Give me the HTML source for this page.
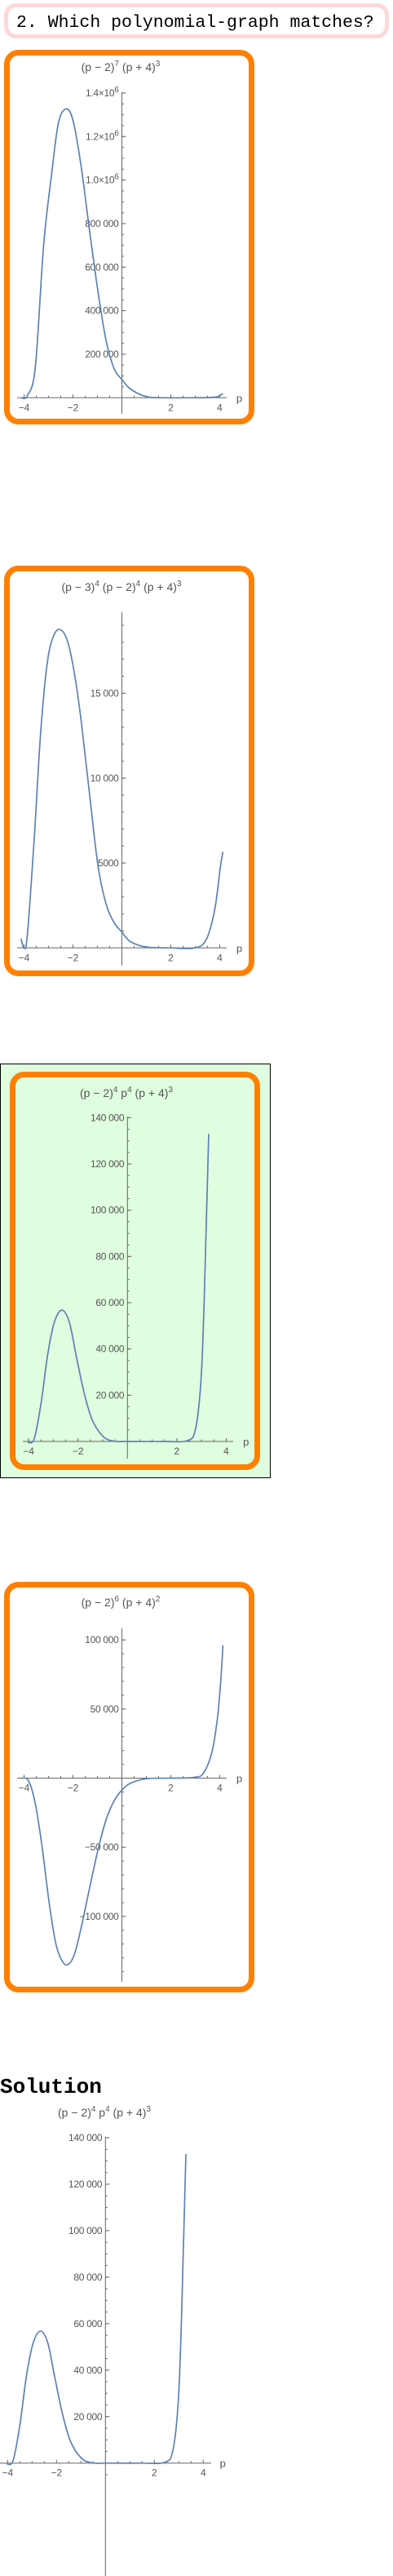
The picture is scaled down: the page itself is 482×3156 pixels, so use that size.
<!DOCTYPE html>
<html><head><meta charset="utf-8">
<style>
html,body{margin:0;padding:0;background:#fff;width:482px;height:3156px;overflow:hidden;}
svg{display:block;}
.t{font-family:"Liberation Sans",sans-serif;fill:#555;}
.m{font-family:"Liberation Mono","DejaVu Sans Mono",monospace;fill:#000;}
</style></head>
<body>
<svg id="page" width="482" height="3156" xmlns="http://www.w3.org/2000/svg">
  <rect x="7.5" y="6.5" width="467" height="38" rx="12" fill="#fff" stroke="#fdd8d8" stroke-width="5"/>
  <text class="m" x="20" y="33" font-size="21.5">2. Which polynomial-graph matches?</text>

  <rect x="8.5" y="64.5" width="300" height="452" rx="14" fill="#fff" stroke="#ff8000" stroke-width="7"/>
  <rect x="8.5" y="696.5" width="300" height="496" rx="14" fill="#fff" stroke="#ff8000" stroke-width="7"/>
  <rect x="0.5" y="1303.5" width="331" height="507" fill="#dffddf" stroke="#000" stroke-width="1"/>
  <rect x="15.5" y="1316.5" width="300" height="481" rx="14" fill="#dffddf" stroke="#ff8000" stroke-width="7"/>
  <rect x="8.5" y="1941.5" width="300" height="496" rx="14" fill="#fff" stroke="#ff8000" stroke-width="7"/>
  <text class="m" x="0" y="2564" font-size="26" font-weight="bold">Solution</text>
  <g id="charts"></g>
</svg>
<script>
// Chart 1: (p-2)^7 (p+4)^3
const c1P = [-4.12,-3.87,-3.54,-3.2,-2.87,-2.59,-2.26,-1.98,-1.65,-1.32,-0.98,-0.65,-0.32,0,0.35,1.0,1.68,2.8,3.8,4.13];
const c1V = [0,9000,140000,700000,1030000,1265000,1327000,1265000,1050000,765000,490000,265000,134000,84000,40000,5000,0,0,2500,19000];
const c1Ticks = [200000,400000,600000,800000,1000000,1200000,1400000];
const c1Labels = ["200 000","400 000","600 000","800 000","1.0×10^6","1.2×10^6","1.4×10^6"];
// Chart 2: (p-3)^4 (p-2)^4 (p+4)^3
const c2P = [-4.12,-4.0,-3.87,-3.59,-3.32,-3.04,-2.76,-2.48,-2.21,-1.93,-1.65,-1.32,-0.98,-0.65,-0.32,0,0.35,1.0,2.0,3.0,3.46,3.8,4.02,4.13];
const c2V = [530,0,690,6300,12700,16900,18480,18720,18000,16070,13190,9020,4860,2600,1490,930,370,50,0,0,530,2290,4700,5660];
const c2Ticks = [5000,10000,15000];
const c2Labels = ["5000","10 000","15 000"];
// Chart 3 and solution: (p-2)^4 p^4 (p+4)^3
const c3P = [-4.05,-3.78,-3.5,-3.23,-2.96,-2.65,-2.35,-2.08,-1.75,-1.42,-0.98,-0.54,0,1.44,2.43,2.76,2.98,3.11,3.2,3.29];
const c3V = [-300,940,16200,37400,51500,56800,51500,37400,20900,9200,2100,100,0,0,350,5600,26800,62000,97400,133000];
const c3Ticks = [20000,40000,60000,80000,100000,120000,140000];
const c3Labels = ["20 000","40 000","60 000","80 000","100 000","120 000","140 000"];
// Chart 4: (p-2)^6 (p+4)^2
const c4P = [-4.12,-3.82,-3.54,-3.26,-2.98,-2.71,-2.43,-2.18,-1.93,-1.65,-1.32,-0.98,-0.65,-0.32,0,0.35,1.0,2.0,3.0,3.35,3.68,3.9,4.04,4.13];
const c4V = [0,-1800,-18500,-50000,-89400,-119000,-132700,-134600,-126800,-107000,-79500,-52000,-30300,-16500,-8700,-3700,-400,0,600,4100,18900,42500,70000,96000];
const c4Ticks = [-100000,-50000,50000,100000];
const c4Labels = ["−100 000","−50 000","50 000","100 000"];
const xTicks = [-4,-2,2,4];
const xLabels = ["−4","−2","2","4"];

const NS = "http://www.w3.org/2000/svg";
const root = document.getElementById('charts');
function mk(tag, attrs, parent){ const e=document.createElementNS(NS,tag); for(const k in attrs) e.setAttribute(k,attrs[k]); (parent||root).appendChild(e); return e; }

function drawChart(cfg){
  const g = mk('g',{});
  
  
  const sx = p => cfg.ox + p*cfg.xu;
  const sy = v => cfg.oy - v*cfg.k;
  const t = mk('text',{class:'t',x:cfg.tx,y:cfg.ty,'font-size':14,'text-anchor':'middle'},g);
  
  
  cfg.title.forEach(part=>{ const s=mk('tspan',{},t); s.textContent=part[0]; if(part[1]) {s.setAttribute('dy', part[1]); s.setAttribute('font-size', part[2]||10);} });
  const ax = mk('line',{x1:cfg.xl,x2:cfg.xr,y1:cfg.oy,y2:cfg.oy,stroke:'#666','stroke-width':1},g);
  
  
  const ay = mk('line',{x1:cfg.ox,x2:cfg.ox,y1:cfg.yt,y2:cfg.yb,stroke:'#666','stroke-width':1},g);
  
  
  for(let p=-4;p<=4.01;p+=0.5){ if(Math.abs(p)<0.01) continue; const x=sx(p); const maj=Math.abs(p%2)<0.01; mk('line',{x1:x,x2:x,y1:cfg.oy,y2:cfg.oy-(maj?4:2.5),stroke:'#666','stroke-width':1},g); }
  xTicks.forEach((p,i)=>{ const l=mk('text',{class:'t',x:sx(p),y:cfg.oy+16,'font-size':12,'text-anchor':'middle'},g); l.textContent=xLabels[i];
    
     });
  const pl = mk('text',{class:'t',x:cfg.ox+cfg.xu*4.8,y:cfg.oy+5,'font-size':13,'text-anchor':'middle'},g); pl.textContent='p';
  
  
  for(let v=cfg.vmin; v<=cfg.vmax+1e-6; v+=cfg.minor){ const y=sy(v); if(y<cfg.yt||y>cfg.yb||Math.abs(v)<1e-6) continue; mk('line',{x1:cfg.ox,x2:cfg.ox+2.5,y1:y,y2:y,stroke:'#666','stroke-width':1},g); }
  cfg.ticks.forEach((v,i)=>{ const y=sy(v); mk('line',{x1:cfg.ox,x2:cfg.ox+5,y1:y,y2:y,stroke:'#666','stroke-width':1},g);
    const l=mk('text',{class:'t',x:cfg.ox-4,y:y+4,'font-size':12,'text-anchor':'end','letter-spacing':'-0.3'},g);
    
    
    const lab=cfg.labels[i];
    if(lab.indexOf('^')>=0){ const [a,b]=lab.split('^'); const s1=mk('tspan',{},l); s1.textContent=a; const s2=mk('tspan',{dy:-5,'font-size':10},l); s2.textContent=b; }
    else l.textContent=lab; });
  const pts = cfg.P.map((p,i)=>[sx(p), sy(cfg.V[i])]);
  let d = 'M'+pts[0][0].toFixed(2)+','+pts[0][1].toFixed(2);
  for(let i=0;i<pts.length-1;i++){
    const p0=pts[Math.max(0,i-1)],p1=pts[i],p2=pts[i+1],p3=pts[Math.min(pts.length-1,i+2)];
    const c1=[p1[0]+(p2[0]-p0[0])/6, p1[1]+(p2[1]-p0[1])/6];
    const c2=[p2[0]-(p3[0]-p1[0])/6, p2[1]-(p3[1]-p1[1])/6];
    d+=' C'+c1.map(n=>n.toFixed(2)).join(',')+' '+c2.map(n=>n.toFixed(2)).join(',')+' '+p2.map(n=>n.toFixed(2)).join(',');
  }
  const c = mk('path',{d:d,fill:'none',stroke:'#5e81b5','stroke-width':1.7,'stroke-linejoin':'round'},g);
  
  
}

drawChart({name:'option-1-chart',ox:149.5,xu:30,oy:487.3,k:266.7/1e6,xl:21,xr:278,yt:113,yb:507,vmin:0,vmax:1400000,minor:50000,
  ticks:c1Ticks,labels:c1Labels,P:c1P,V:c1V,tx:148,ty:87,title:[["(p − 2)"],["7",-6,10],[" (p + 4)",6,14],["3",-6,10]]});
drawChart({name:'option-2-chart',ox:149.5,xu:30,oy:1161.3,k:104/5000,xl:21,xr:278,yt:750,yb:1183,vmin:0,vmax:19000,minor:1000,
  ticks:c2Ticks,labels:c2Labels,P:c2P,V:c2V,tx:149,ty:724,title:[["(p − 3)"],["4",-6,10],[" (p − 2)",6,14],["4",-6,10],[" (p + 4)",6,14],["3",-6,10]]});
drawChart({name:'option-3-chart',ox:156.3,xu:30.3,oy:1766,k:2.833/1000,xl:28,xr:286,yt:1368,yb:1787,vmin:0,vmax:140000,minor:5000,
  ticks:c3Ticks,labels:c3Labels,P:c3P,V:c3V,tx:155,ty:1344,title:[["(p − 2)"],["4",-6,10],[" p",6,14],["4",-6,10],[" (p + 4)",6,14],["3",-6,10]]});
drawChart({name:'option-4-chart',ox:149.5,xu:30,oy:2178.5,k:84.67/50000,xl:21,xr:278,yt:1995,yb:2428,vmin:-140000,vmax:105000,minor:10000,
  ticks:c4Ticks,labels:c4Labels,P:c4P,V:c4V,tx:148,ty:1968,title:[["(p − 2)"],["6",-6,10],[" (p + 4)",6,14],["2",-6,10]]});
drawChart({name:'solution-chart',ox:129.3,xu:30,oy:3017.7,k:341.7/120000,xl:0,xr:259,yt:2618,yb:3156,vmin:-5000,vmax:140000,minor:5000,
  ticks:c3Ticks,labels:c3Labels,P:c3P,V:c3V,tx:128,ty:2593,title:[["(p − 2)"],["4",-6,10],[" p",6,14],["4",-6,10],[" (p + 4)",6,14],["3",-6,10]]});
</script>
</body></html>
